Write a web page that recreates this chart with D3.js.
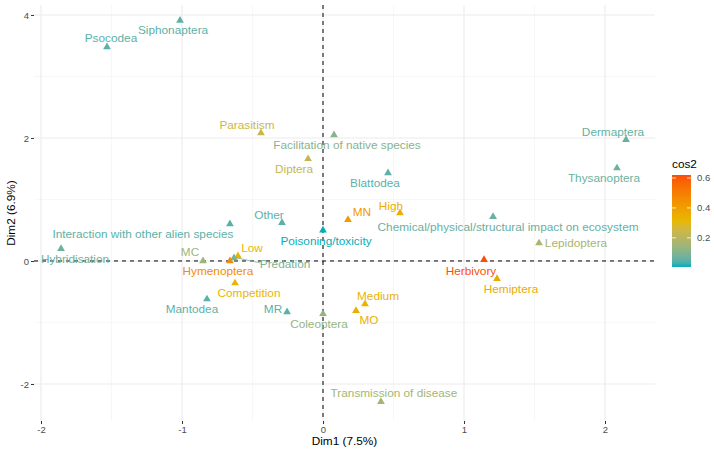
<!DOCTYPE html>
<html>
<head>
<meta charset="utf-8">
<script src="https://cdn.jsdelivr.net/npm/d3@7"></script>
<style>
html,body{margin:0;padding:0;background:#fff;}
svg{display:block;font-family:"Liberation Sans",Arial,Helvetica,sans-serif;}
</style>
</head>
<body>
<svg id="chart" width="714" height="451"></svg>
<script>
// ---- data ----
const names = ["Siphonaptera","Psocodea","Parasitism","Facilitation of native species","Dermaptera","Diptera","Thysanoptera","Blattodea","High","MN","Chemical/physical/structural impact on ecosystem","Lepidoptera","Poisoning/toxicity","Other","Interaction with other alien species","Hybridisation","MC","Low","Hymenoptera","Predation","Competition","Mantodea","MR","Coleoptera","Medium","MO","Herbivory","Hemiptera","Transmission of disease"];
const dim1 = [-1.014,-1.532,-0.44,0.078,2.149,-0.106,2.085,0.461,0.546,0.177,1.206,1.532,0.0,-0.291,-0.66,-1.858,-0.851,-0.603,-0.66,-0.631,-0.624,-0.823,-0.255,0.0,0.298,0.234,1.142,1.234,0.411];
const dim2 = [3.91,3.48,2.08,2.05,1.97,1.66,1.51,1.43,0.78,0.67,0.72,0.29,0.50,0.62,0.60,0.20,0.0,0.08,0.0,0.05,-0.36,-0.62,-0.83,-0.86,-0.70,-0.81,0.02,-0.29,-2.29];
const cos2 = [0.05,0.05,0.24,0.11,0.06,0.23,0.07,0.05,0.35,0.41,0.06,0.17,0.005,0.05,0.05,0.07,0.15,0.32,0.46,0.09,0.32,0.05,0.05,0.13,0.33,0.35,0.62,0.36,0.16];
const xTicks = [-2,-1,0,1,2];
const yTicks = [-2,0,2,4];
const legendTicks = [0.2,0.4,0.6];
const xTitle = "Dim1 (7.5%)";
const yTitle = "Dim2 (6.9%)";
const legendTitle = "cos2";
const gradientCols = ["#00AFBB","#E7B800","#FC4E07"];

// ---- layout (label offsets in px, repel-like placement) ----
const labelOffsets = [[-7,10],[4,-9],[-14,-8],[13,10],[-13,-8],[-14,10],[-13,10],[-13,10],[-9,-7],[14,-8],[15,10],[37,0],[3,11],[-13,-8],[-87,10],[14,10],[-13,-9],[14,-8],[-12,10],[51,6],[14,10],[-15,10],[-14,-3],[-4,10],[13,-8],[13,9],[-13,11],[14,10],[13,-9]];
const segmentIdx = [19];

const svg = d3.select("#chart");
const P = {left:34, right:655, top:5, bottom:421};

const x = d3.scaleLinear().domain([-2.0497, 2.3546]).range([P.left, P.right]);
const y = d3.scaleLinear().domain([-2.602, 4.162]).range([P.bottom, P.top]);

const cmin = d3.min(cos2), cmax = d3.max(cos2);
const color = d3.scaleLinear()
  .domain([cmin, (cmin+cmax)/2, cmax])
  .range(gradientCols)
  .interpolate(d3.interpolateLab);

// grid
const g = svg.append("g");
const xMinor = [-1.5,-0.5,0.5,1.5];
const yMinor = [-1,1,3];
g.selectAll(".xminor").data(xMinor).join("line")
  .attr("x1",d=>x(d)).attr("x2",d=>x(d)).attr("y1",P.top).attr("y2",P.bottom)
  .attr("stroke","#F2F2F2").attr("stroke-width",0.6);
g.selectAll(".yminor").data(yMinor).join("line")
  .attr("y1",d=>y(d)).attr("y2",d=>y(d)).attr("x1",P.left).attr("x2",P.right)
  .attr("stroke","#F2F2F2").attr("stroke-width",0.6);
g.selectAll(".xmajor").data(xTicks).join("line")
  .attr("x1",d=>x(d)).attr("x2",d=>x(d)).attr("y1",P.top).attr("y2",P.bottom)
  .attr("stroke","#EBEBEB").attr("stroke-width",1.1);
g.selectAll(".ymajor").data(yTicks).join("line")
  .attr("y1",d=>y(d)).attr("y2",d=>y(d)).attr("x1",P.left).attr("x2",P.right)
  .attr("stroke","#EBEBEB").attr("stroke-width",1.1);

// axes
const xAxis = d3.axisBottom(x).tickValues(xTicks).tickSize(3).tickPadding(2).tickFormat(d3.format("d"));
const yAxis = d3.axisLeft(y).tickValues(yTicks).tickSize(3).tickPadding(2).tickFormat(d3.format("d"));
const gx = svg.append("g").attr("transform",`translate(0,${P.bottom})`).call(xAxis);
const gy = svg.append("g").attr("transform",`translate(${P.left},0)`).call(yAxis);
[gx,gy].forEach(a=>{
  a.select(".domain").remove();
  a.selectAll(".tick line").attr("stroke","#333333").attr("stroke-width",1);
  a.selectAll(".tick text").attr("fill","#4D4D4D").style("font-size","9.5px").style("font-family","Liberation Sans, Arial, sans-serif");
});
gx.selectAll(".tick text").text(d=>d<0?"-"+Math.abs(d):d);
gy.selectAll(".tick text").text(d=>d<0?"-"+Math.abs(d):d);

// dashed zero lines
svg.append("line").attr("x1",x(0)).attr("x2",x(0)).attr("y1",P.top).attr("y2",P.bottom)
  .attr("stroke","#000").attr("stroke-width",1).attr("stroke-dasharray","4,4");
svg.append("line").attr("y1",y(0)).attr("y2",y(0)).attr("x1",P.left).attr("x2",P.right)
  .attr("stroke","#000").attr("stroke-width",1).attr("stroke-dasharray","4,4");

// points
const idx = d3.range(names.length);
const tri = d3.symbol().type(d3.symbolTriangle).size(26);
svg.append("g").selectAll("path").data(idx).join("path")
  .attr("d",tri)
  .attr("transform",i=>`translate(${x(dim1[i])},${y(dim2[i])})`)
  .attr("fill",i=>color(cos2[i]));

// segments
svg.append("g").selectAll("line").data(segmentIdx).join("line")
  .attr("x1",i=>x(dim1[i])+3).attr("y1",i=>y(dim2[i]))
  .attr("x2",i=>x(dim1[i])+labelOffsets[i][0]-25)
  .attr("y2",i=>y(dim2[i])+labelOffsets[i][1]-1)
  .attr("stroke",i=>color(cos2[i])).attr("stroke-width",0.8);

// labels
svg.append("g").selectAll("text").data(idx).join("text")
  .attr("x",i=>x(dim1[i])+labelOffsets[i][0])
  .attr("y",i=>y(dim2[i])+labelOffsets[i][1])
  .attr("text-anchor","middle").attr("dominant-baseline","central")
  .style("font-size","11.8px")
  .attr("fill",i=>color(cos2[i]))
  .text(i=>names[i]);

// axis titles
svg.append("text").attr("x",(P.left+P.right)/2).attr("y",445)
  .attr("text-anchor","middle").style("font-size","11.8px").attr("fill","#000").text(xTitle);
svg.append("text").attr("transform",`translate(15,${(P.top+P.bottom)/2}) rotate(-90)`)
  .attr("text-anchor","middle").style("font-size","11.8px").attr("fill","#000").text(yTitle);

// legend
const L = {x:672, w:19, top:175, bottom:267};
const ly = d3.scaleLinear().domain([cmin,cmax]).range([L.bottom,L.top]);
const defs = svg.append("defs");
const grad = defs.append("linearGradient").attr("id","cg").attr("x1","0").attr("x2","0").attr("y1","1").attr("y2","0");
d3.range(0,1.0001,0.05).forEach(t=>{
  grad.append("stop").attr("offset",t).attr("stop-color",color(cmin+t*(cmax-cmin)));
});
svg.append("rect").attr("x",L.x).attr("y",L.top).attr("width",L.w).attr("height",L.bottom-L.top).attr("fill","url(#cg)");
legendTicks.forEach(v=>{
  svg.append("line").attr("x1",L.x).attr("x2",L.x+4).attr("y1",ly(v)).attr("y2",ly(v)).attr("stroke","#fff").attr("stroke-width",0.8);
  svg.append("line").attr("x1",L.x+L.w-4).attr("x2",L.x+L.w).attr("y1",ly(v)).attr("y2",ly(v)).attr("stroke","#fff").attr("stroke-width",0.8);
});
svg.append("g").selectAll("text").data(legendTicks).join("text")
  .attr("x",L.x+L.w+6).attr("y",d=>ly(d)).attr("dominant-baseline","central")
  .style("font-size","9.5px").attr("fill","#4D4D4D").text(d=>d.toFixed(1));
svg.append("text").attr("x",L.x).attr("y",168).style("font-size","11.8px").attr("fill","#000").text(legendTitle);
</script>
</body>
</html>
